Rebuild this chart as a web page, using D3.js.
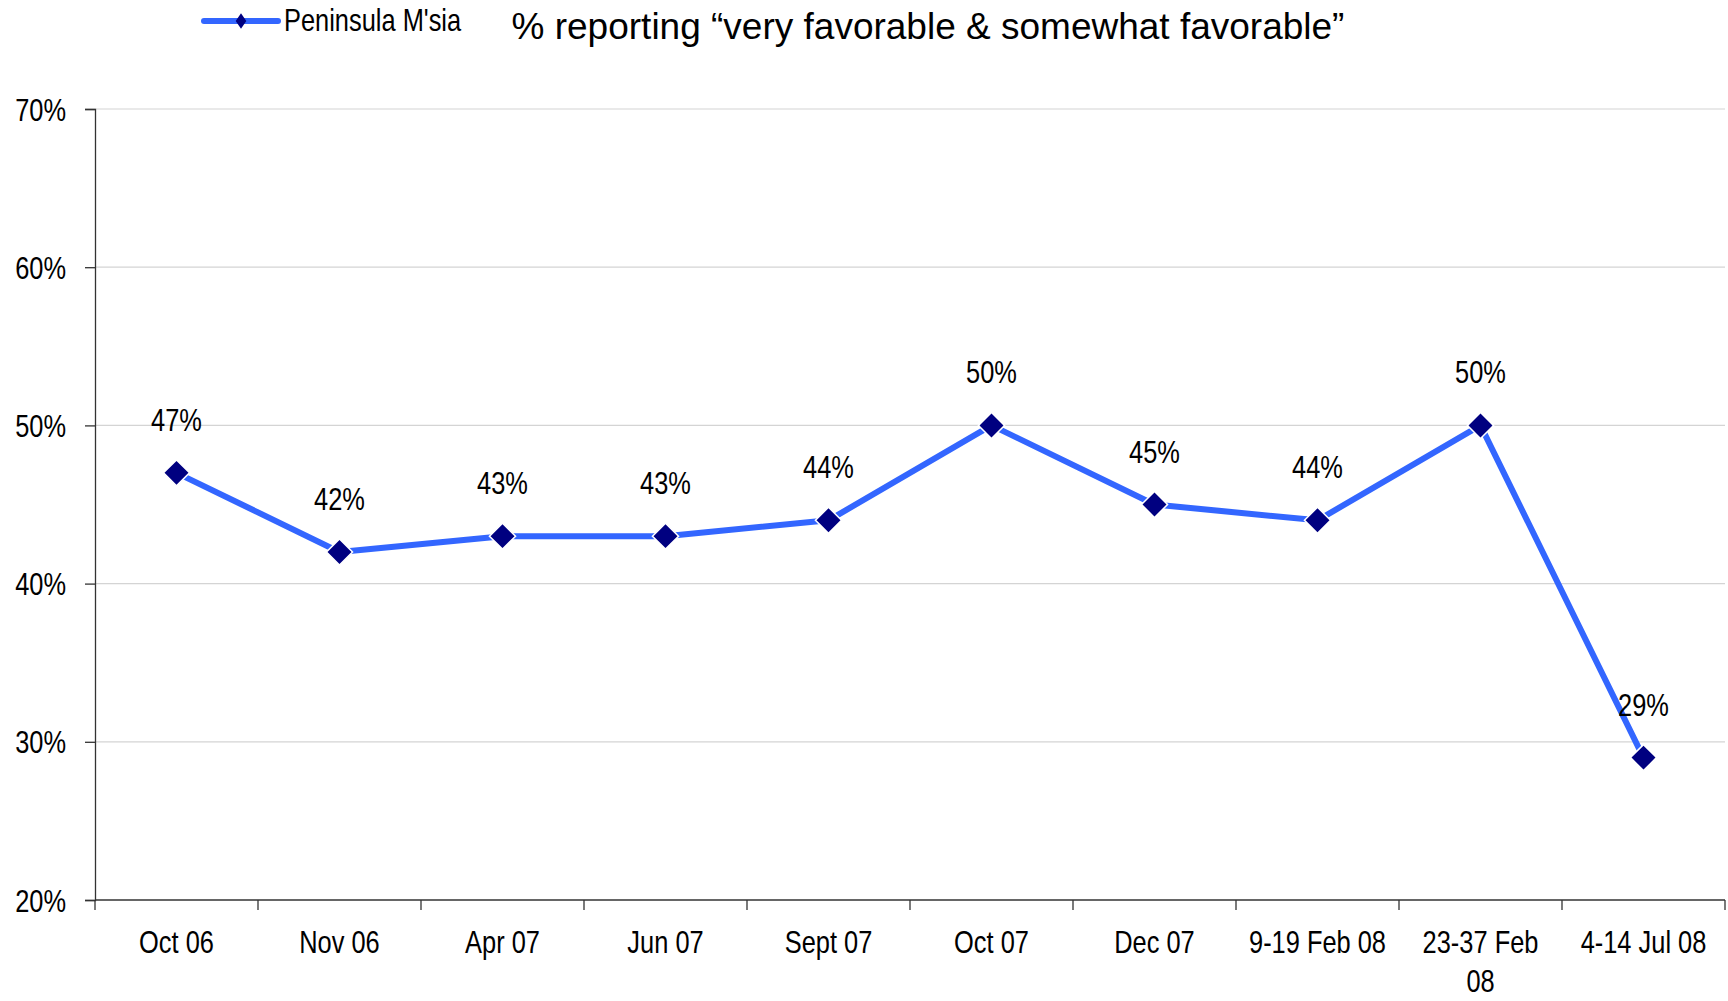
<!DOCTYPE html>
<html>
<head>
<meta charset="utf-8">
<script src="https://cdn.jsdelivr.net/npm/d3@7"></script>
<style>
html,body{margin:0;padding:0;background:#fff;}
svg{display:block;}
</style>
</head>
<body>
<svg id="chart" width="1728" height="1001"></svg>
<script>
const categories = ["Oct 06","Nov 06","Apr 07","Jun 07","Sept 07","Oct 07","Dec 07","9-19 Feb 08","23-37 Feb 08","4-14 Jul 08"];
const values = [47,42,43,43,44,50,45,44,50,29];
const yTicks = [20,30,40,50,60,70];
const seriesName = "Peninsula M'sia";
const titleText = "% reporting \u201cvery favorable & somewhat favorable\u201d";

const W = 1728, H = 1001;
const margin = {left:95, right:3, top:109, bottom:101};
const svg = d3.select("#chart");
const lineColor = "#3366FF", markColor = "#000080";
const FONT = "'Liberation Sans',Arial,sans-serif";
const NARROW = 0.82, FS = 31;

// narrow text helper: draws text condensed horizontally around its anchor
function narrowText(g, x0, y0, txt, anchor) {
  const t = g.append("text")
    .attr("transform", `translate(${x0},${y0}) scale(${NARROW},1)`)
    .attr("font-family", FONT).attr("font-size", FS).attr("fill", "#000")
    .attr("text-anchor", anchor || "start")
    .text(txt);
  return t;
}

const x = d3.scaleBand().domain(categories).range([margin.left, W - margin.right]).paddingInner(0).paddingOuter(0);
const y = d3.scaleLinear().domain([20,70]).range([H - margin.bottom, margin.top]);

// gridlines
svg.append("g").selectAll("line").data(yTicks.filter(d=>d>20)).join("line")
  .attr("x1", margin.left).attr("x2", W - margin.right)
  .attr("y1", d=>y(d)).attr("y2", d=>y(d))
  .attr("stroke","#d4d4d4").attr("stroke-width",1.2);

// y axis
const yAxis = d3.axisLeft(y).tickValues(yTicks).tickSize(10).tickFormat(d=>d+"%");
const gy = svg.append("g").attr("transform",`translate(${margin.left},0)`).call(yAxis);
gy.select(".domain").attr("stroke","#333").attr("stroke-width",1.3);
gy.selectAll(".tick line").attr("stroke","#333").attr("stroke-width",1.3);
gy.selectAll(".tick text").remove();
gy.selectAll(".tick").each(function(d){
  narrowText(d3.select(this), -29, 11, d+"%", "end");
});

// x axis
const boundaries = categories.map(c=>x(c)).concat([W - margin.right]);
svg.append("line").attr("x1",margin.left).attr("x2",W-margin.right)
  .attr("y1",y(20)).attr("y2",y(20)).attr("stroke","#333").attr("stroke-width",1.5);
svg.append("g").selectAll("line").data(boundaries).join("line")
  .attr("x1",d=>d).attr("x2",d=>d).attr("y1",y(20)).attr("y2",y(20)+10)
  .attr("stroke","#333").attr("stroke-width",1.3);

const gx = svg.append("g");
categories.forEach(c=>{
  const cx = x(c) + x.bandwidth()/2;
  const t = narrowText(gx, cx, 953, "", "middle");
  const words = c.split(" ");
  let line = [], lines = [];
  const tmp = t.append("tspan");
  words.forEach(w=>{
    const test = line.concat([w]).join(" ");
    tmp.text(test);
    if (tmp.node().getComputedTextLength()*NARROW > 145 && line.length) { lines.push(line.join(" ")); line=[w]; }
    else line.push(w);
  });
  lines.push(line.join(" "));
  tmp.remove();
  lines.forEach((l,i)=>{
    t.append("tspan").attr("x", 0).attr("dy", i===0?0:39).text(l);
  });
});

// line
const pts = categories.map((c,i)=>({c, v:values[i]}));
const line = d3.line().x(d=>x(d.c)+x.bandwidth()/2).y(d=>y(d.v));
svg.append("path").datum(pts).attr("d",line)
  .attr("fill","none").attr("stroke",lineColor).attr("stroke-width",6).attr("stroke-linejoin","round");

// markers
const sym = d3.symbol().type(d3.symbolSquare).size(340);
svg.append("g").selectAll("path").data(pts).join("path")
  .attr("d",sym)
  .attr("transform",d=>`translate(${x(d.c)+x.bandwidth()/2},${y(d.v)}) rotate(45)`)
  .attr("fill",markColor).attr("stroke","#fff").attr("stroke-width",1.5);

// data labels
const gl = svg.append("g");
pts.forEach(d=>{
  narrowText(gl, x(d.c)+x.bandwidth()/2, y(d.v)-42, d.v+"%", "middle");
});

// legend
const lg = svg.append("g");
lg.append("line").attr("x1",204).attr("x2",278).attr("y1",21).attr("y2",21)
  .attr("stroke",lineColor).attr("stroke-width",6).attr("stroke-linecap","round");
lg.append("path").attr("d",d3.symbol().type(d3.symbolSquare).size(100)())
  .attr("transform","translate(241,21) scale(0.75,1.1) rotate(45)")
  .attr("fill",markColor);
narrowText(lg, 284, 31, seriesName, "start");

// title
svg.append("text").attr("x",928).attr("y",39).attr("text-anchor","middle")
  .attr("font-family",FONT).attr("font-size",37).attr("fill","#000")
  .text(titleText);
</script>
</body>
</html>
